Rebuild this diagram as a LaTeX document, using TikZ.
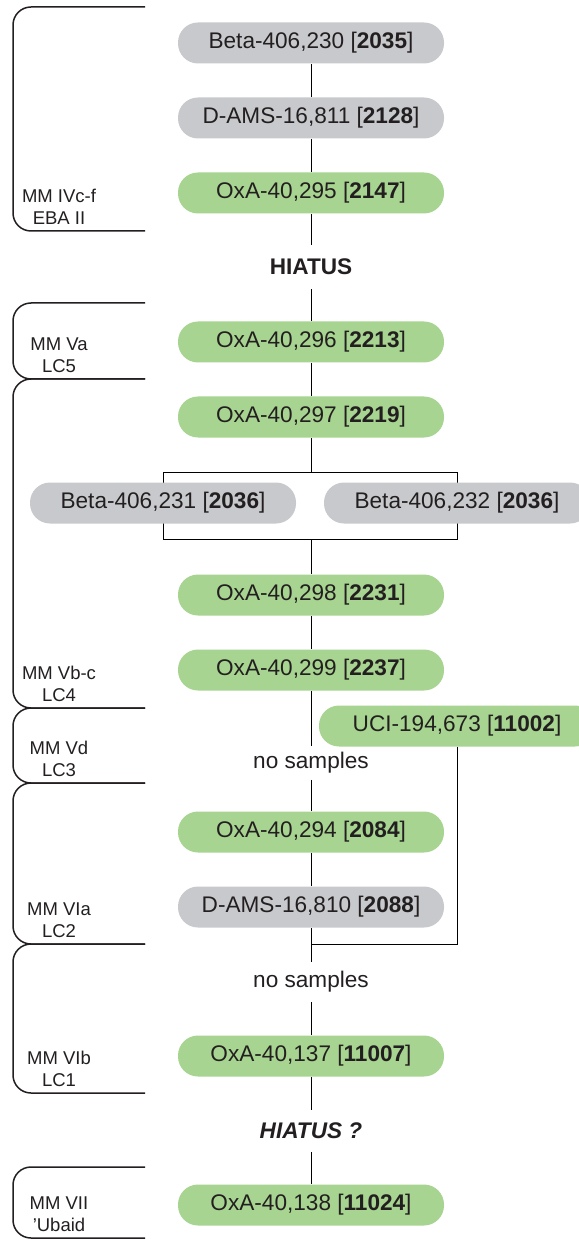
\documentclass[tikz,border=0pt]{standalone}
\usepackage{fontspec}
\setmainfont{Liberation Sans}
\usetikzlibrary{backgrounds}
\definecolor{datgreen}{RGB}{167,212,144}
\definecolor{datgrey}{RGB}{200,201,204}
\definecolor{ink}{RGB}{35,31,32}
\begin{document}
\begin{tikzpicture}[x=0.5pt,y=-0.5pt,line width=0.75pt,color=ink,
    sample/.style={rounded corners=10pt,minimum width=133pt,minimum height=20.5pt,inner sep=0pt,font=\fontsize{11.3}{13}\selectfont},
    greensample/.style={sample,fill=datgreen},
    greysample/.style={sample,fill=datgrey},
    gap/.style={inner sep=0pt,font=\fontsize{11.3}{13}\selectfont},
    phase/.style={align=center,inner sep=0pt,font=\fontsize{9.25}{11}\selectfont}]
    \useasboundingbox (0,0) rectangle (578,1240);
    \node[greysample] (b230) at (311,43) {Beta-406,230 [\textbf{2035}]};
    \node[greysample] (d811) at (311,118) {D-AMS-16,811 [\textbf{2128}]};
    \node[greensample] (o295) at (311,193) {OxA-40,295 [\textbf{2147}]};
    \node[gap,minimum height=21.5pt,font=\fontsize{11.3}{13}\selectfont\bfseries] (hiatus) at (311,267) {HIATUS};
    \node[greensample] (o296) at (311,342) {OxA-40,296 [\textbf{2213}]};
    \node[greensample] (o297) at (311,417) {OxA-40,297 [\textbf{2219}]};
    \node[greysample] (b231) at (163,503) {Beta-406,231 [\textbf{2036}]};
    \node[greysample] (b232) at (457,503) {Beta-406,232 [\textbf{2036}]};
    \node[greensample] (o298) at (311,595) {OxA-40,298 [\textbf{2231}]};
    \node[greensample] (o299) at (311,670) {OxA-40,299 [\textbf{2237}]};
    \node[greensample,minimum width=138pt] (uci) at (457,726) {UCI-194,673 [\textbf{11002}]};
    \node[gap,minimum height=16pt] (ns1) at (311,763) {no samples};
    \node[greensample] (o294) at (311,832) {OxA-40,294 [\textbf{2084}]};
    \node[greysample] (d810) at (311,907) {D-AMS-16,810 [\textbf{2088}]};
    \node[gap,minimum height=19.5pt] (ns2) at (311,982) {no samples};
    \node[greensample] (o137) at (311,1056) {OxA-40,137 [\textbf{11007}]};
    \node[gap,minimum height=20pt,font=\fontsize{11.3}{13}\selectfont\bfseries\itshape] (hq) at (311,1131) {HIATUS ?};
    \node[greensample] (o138) at (311,1205) {OxA-40,138 [\textbf{11024}]};
    \coordinate (boxtop) at (311,472);
    \coordinate (boxbot) at (311,539);
    \coordinate (lc2) at (311,944);
    \begin{scope}[on background layer]
        \draw (b230) -- (d811) -- (o295) -- (hiatus) -- (o296) -- (o297) -- (boxtop);
        \draw (b231.center |- boxtop) rectangle (b232.center |- boxbot);
        \draw (boxbot) -- (o298) -- (o299) -- (ns1) -- (o294) -- (d810) -- (ns2) -- (o137) -- (hq) -- (o138);
        \draw (uci) |- (lc2);
    \end{scope}
    \foreach \t/\b/\p/\q [count=\i] in {7/231/MM IVc-f/EBA II, 303/379/MM Va/LC5, 379/708/MM Vb-c/LC4, 708/783/MM Vd/LC3, 783/944/MM VIa/LC2, 944/1093/MM VIb/LC1, 1167/1238/MM VII/’Ubaid}{
        \draw[rounded corners=9pt] (145,\t) -- (13,\t) -- (13,\b) -- (145,\b);
        \node[phase] (lab\i) at (59,\b-24) {\p\\\q};
    }
\end{tikzpicture}
\end{document}
